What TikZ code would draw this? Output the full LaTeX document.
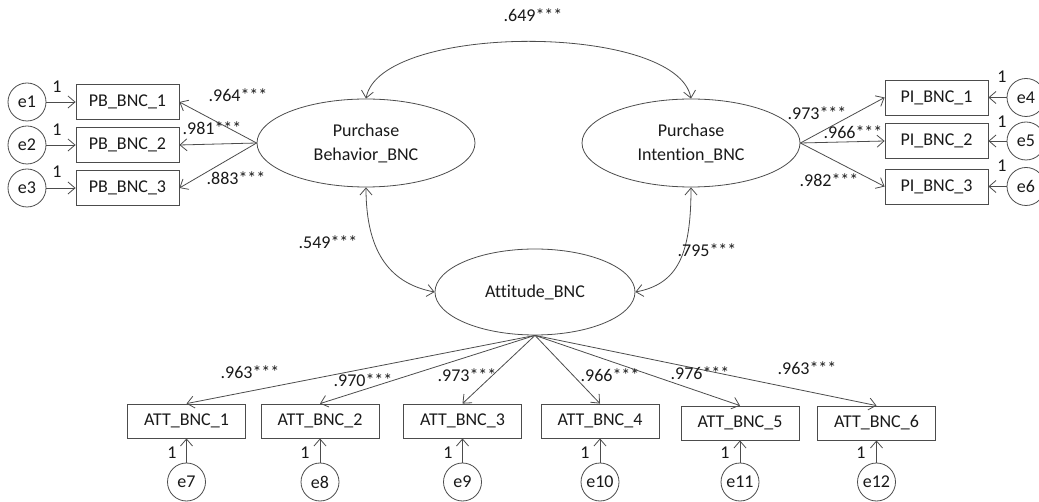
\documentclass[tikz,border=0pt]{standalone}
\usepackage{fontspec}
\setmainfont{Carlito}[Ligatures=NoCommon]
\usetikzlibrary{shapes.geometric,arrows.meta}

\begin{document}
\begin{tikzpicture}[x=1pt,y=-1pt,
  font=\fontsize{18}{24}\selectfont,
  ln/.style={draw=black!70, line width=0.8pt},
  tip/.style={ln, -{Straight Barb[length=7pt,width=12pt]}},
  dtip/.style={ln, {Straight Barb[length=7pt,width=12pt]}-{Straight Barb[length=7pt,width=12pt]}},
  obs/.style={draw=black!70, line width=0.8pt, rectangle, minimum width=103pt, minimum height=35pt, inner sep=0pt, text=black!90},
  attbox/.style={obs, minimum width=118pt, minimum height=34pt},
  lat/.style={draw=black!70, line width=0.8pt, ellipse, minimum width=218pt, minimum height=88pt, inner sep=0pt, align=center, text=black!90},
  err/.style={draw=black!70, line width=0.8pt, circle, minimum size=38pt, inner sep=0pt, text=black!90},
  coef/.style={inner sep=1pt, text=black!90},
]
\useasboundingbox (0,0) rectangle (1039,502);

% latent variables
\node[lat] (pb) at (366,143) {Purchase\\Behavior\_BNC};
\node[lat] (pi) at (691,143) {Purchase\\Intention\_BNC};
\node[lat, minimum width=200pt, minimum height=86pt] (att) at (535,292) {Attitude\_BNC};

% purchase behaviour indicators
\node[obs] (pb1) at (127.5,102) {PB\_BNC\_1};
\node[obs] (pb2) at (127.5,145) {PB\_BNC\_2};
\node[obs] (pb3) at (127.5,188) {PB\_BNC\_3};
\node[err] (e1) at (27,102) {e1};
\node[err] (e2) at (27,145) {e2};
\node[err] (e3) at (27,188) {e3};

% purchase intention indicators
\node[obs] (pi1) at (936.5,97.5) {PI\_BNC\_1};
\node[obs] (pi2) at (936.5,141) {PI\_BNC\_2};
\node[obs] (pi3) at (936.5,186.5) {PI\_BNC\_3};
\node[err] (e4) at (1026,97.5) {e4};
\node[err] (e5) at (1026,141) {e5};
\node[err] (e6) at (1026,186.5) {e6};

% attitude indicators
\node[attbox] (a1) at (186.5,421) {ATT\_BNC\_1};
\node[attbox] (a2) at (320,421) {ATT\_BNC\_2};
\node[attbox] (a3) at (462.5,421) {ATT\_BNC\_3};
\node[attbox] (a4) at (600,421) {ATT\_BNC\_4};
\node[attbox] (a5) at (740,423) {ATT\_BNC\_5};
\node[attbox] (a6) at (876.5,423) {ATT\_BNC\_6};
\node[err] (e7) at (186.5,482) {e7};
\node[err] (e8) at (320,482) {e8};
\node[err] (e9) at (462.5,482) {e9};
\node[err] (e10) at (600,482) {e10};
\node[err] (e11) at (740,482) {e11};
\node[err] (e12) at (876.5,482) {e12};

% factor loadings
\foreach \b in {pb1,pb2,pb3} \draw[tip] (pb.west) -- (\b.east);
\foreach \b in {pi1,pi2,pi3} \draw[tip] (pi.east) -- (\b.west);
\foreach \b in {a1,a2,a3,a4,a5,a6} \draw[tip] (att.south) -- (\b.north);

% error terms
\foreach \e/\b in {e1/pb1,e2/pb2,e3/pb3} \draw[tip] (\e.east) -- (\b.west);
\foreach \e/\b in {e4/pi1,e5/pi2,e6/pi3} \draw[tip] (\e.west) -- (\b.east);
\foreach \e/\b in {e7/a1,e8/a2,e9/a3,e10/a4,e11/a5,e12/a6} \draw[tip] (\e.north) -- (\b.south);

% covariances
\draw[dtip] (pb.north) .. controls +(14,-76) and +(-14,-76) .. (pi.north);
\draw[dtip] (pb.south) .. controls +(0,68) and +(-42,-8) .. (att.west);
\draw[dtip] (pi.south) .. controls +(0,68) and +(42,-8) .. (att.east);

% coefficient labels
\node[coef] (c649) at (533,15) {.649***};
\node[coef] (c549) at (328,242) {.549***};
\node[coef] (c795) at (707,250) {.795***};
\node[coef] (c964) at (238,95) {.964***};
\node[coef] (c981) at (212,128) {.981***};
\node[coef] (c883) at (236,178) {.883***};
\node[coef] (c973) at (817,113) {.973***};
\node[coef] (c966) at (853,132) {.966***};
\node[coef] (c982) at (829,180) {.982***};
\node[coef] (l1) at (250,372) {.963***};
\node[coef] (l2) at (363,380) {.970***};
\node[coef] (l3) at (467,375) {.973***};
\node[coef] (l4) at (610,375) {.966***};
\node[coef] (l5) at (700,373) {.976***};
\node[coef] (l6) at (807,368) {.963***};

% fixed loadings of the error terms
\foreach \x/\y [count=\i] in {57/87,57/130,57/172,1002/77,1002/122,1002/166,
  172/453,305/453,448/453,585/453,725/453,861/453}
  \node[coef] (one\i) at (\x,\y) {1};
\end{tikzpicture}
\end{document}
